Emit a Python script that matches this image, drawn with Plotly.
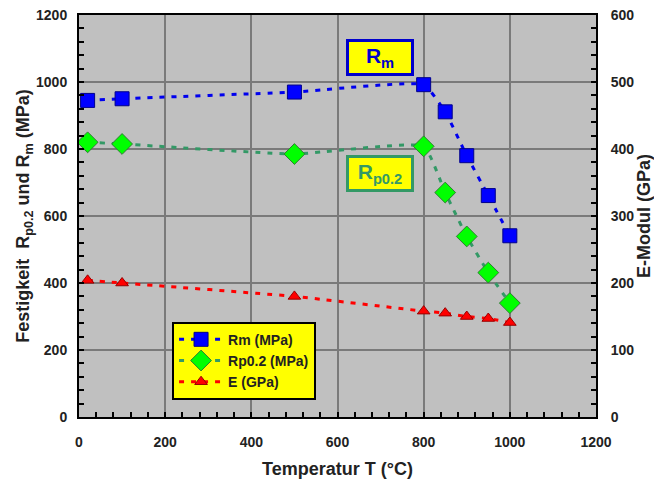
import plotly.graph_objects as go

temp = [20, 100, 500, 800, 850, 900, 950, 1000]
rm = [945, 950, 970, 992, 911, 780, 661, 541]
rp02 = [820, 815, 785, 808, 670, 539, 431, 340]
e_mod = [204, 200, 180, 158, 155, 150, 147, 141]

FONT = "Liberation Sans, Arial, sans-serif"
DASH = "5px,7px"

fig = go.Figure()
fig.add_trace(go.Scatter(
    x=temp, y=rm, name="Rm (MPa)", mode="lines+markers",
    line=dict(color="#0000ee", width=3, dash=DASH, shape="spline", smoothing=0.4),
    marker=dict(symbol="square", size=14, color="#0000ff", line=dict(color="#00008b", width=1)),
))
fig.add_trace(go.Scatter(
    x=temp, y=rp02, name="Rp0.2 (MPa)", mode="lines+markers",
    line=dict(color="#339966", width=3, dash=DASH, shape="spline", smoothing=0.4),
    marker=dict(symbol="diamond", size=16, color="#00ff00", line=dict(color="#2e7d32", width=1)),
))
fig.add_trace(go.Scatter(
    x=temp, y=e_mod, name="E (GPa)", mode="lines+markers", yaxis="y2",
    line=dict(color="#ff0000", width=3, dash=DASH, shape="spline", smoothing=0.4),
    marker=dict(symbol="triangle-up", size=11, color="#ff0000", line=dict(color="#990000", width=1)),
))

tickfont = dict(family=FONT, size=14, color="#222222", weight="bold")
titlefont = dict(family=FONT, size=18, color="#222222", weight="bold")

fig.update_layout(
    width=662, height=481,
    margin=dict(l=71, r=74, t=7, b=72),
    paper_bgcolor="white",
    plot_bgcolor="#c0c0c0",
    showlegend=True,
    legend=dict(
        x=0.18, y=0.237, xanchor="left", yanchor="top",
        bgcolor="#ffff00", bordercolor="black", borderwidth=2,
        font=dict(family=FONT, size=14, color="#222222", weight="bold"),
        tracegroupgap=0, itemwidth=44,
    ),
    xaxis=dict(
        range=[0, 1200], dtick=200, tick0=0, automargin=False,
        showgrid=True, gridcolor="#7a7a7a", gridwidth=1.5,
        zeroline=False,
        showline=True, linecolor="black", linewidth=2, mirror=True,
        ticks="inside", ticklen=5, tickcolor="black", tickwidth=1.5,
        minor=dict(dtick=40, ticks="inside", ticklen=5, tickcolor="black", tickwidth=1.5, showgrid=False),
        tickfont=tickfont, ticklabelstandoff=11, ticklabeloverflow="allow",
        title=dict(text="Temperatur T (°C)", font=titlefont, standoff=14),
    ),
    yaxis=dict(
        range=[0, 1200], dtick=200, tick0=0, automargin=False,
        showgrid=True, gridcolor="#7a7a7a", gridwidth=1.5,
        zeroline=False,
        showline=True, linecolor="black", linewidth=2,
        ticks="inside", ticklen=5, tickcolor="black", tickwidth=1.5,
        minor=dict(dtick=40, ticks="inside", ticklen=5, tickcolor="black", tickwidth=1.5, showgrid=False),
        tickfont=tickfont, ticklabelstandoff=7, ticklabeloverflow="allow",
        title=dict(text="Festigkeit  R<sub>p0.2</sub> und R<sub>m</sub> (MPa)", font=titlefont, standoff=1),
    ),
    yaxis2=dict(
        range=[0, 600], dtick=100, tick0=0, automargin=False,
        overlaying="y", side="right",
        showgrid=False, zeroline=False,
        showline=True, linecolor="black", linewidth=2,
        ticks="inside", ticklen=5, tickcolor="black", tickwidth=1.5,
        minor=dict(dtick=20, ticks="inside", ticklen=5, tickcolor="black", tickwidth=1.5, showgrid=False),
        tickfont=tickfont, ticklabelstandoff=10, ticklabeloverflow="allow",
        title=dict(text="E-Modul (GPa)", font=titlefont, standoff=2),
    ),
    annotations=[
        dict(x=698, y=1073, xref="x", yref="y", text="R<sub>m</sub>", showarrow=False,
             font=dict(family=FONT, size=21, color="#0000cc", weight="bold"),
             bgcolor="#ffff00", bordercolor="#0000cc", borderwidth=3, borderpad=3,
             width=56, height=25),
        dict(x=698, y=726, xref="x", yref="y", text="R<sub>p0.2</sub>", showarrow=False,
             font=dict(family=FONT, size=21, color="#339966", weight="bold"),
             bgcolor="#ffff00", bordercolor="#339966", borderwidth=3, borderpad=3,
             width=56, height=25),
    ],
)

fig.write_html("out.html")
